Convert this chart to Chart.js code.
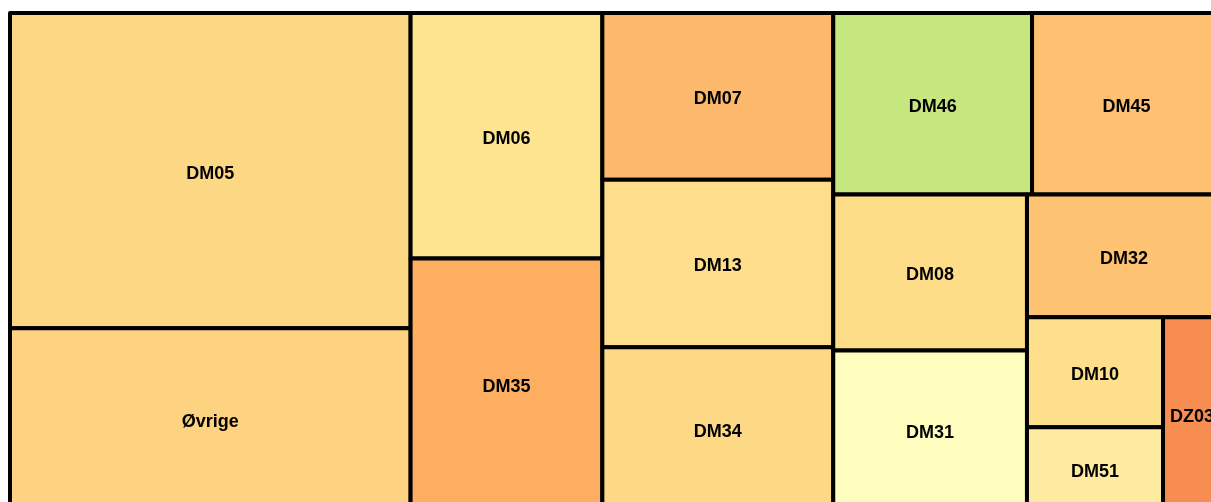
<!DOCTYPE html>
<html>
<head>
<meta charset="utf-8">
<script src="https://cdn.jsdelivr.net/npm/chart.js@4"></script>
<style>
  html, body { margin: 0; padding: 0; background: #fff; overflow: hidden; }
  #wrap { position: absolute; left: 0; top: 0; width: 1240px; height: 530px; }
</style>
</head>
<body>
<div id="wrap"><canvas id="treemap"></canvas></div>
<script>
// treemap cells, in data order
var cellLabels = ["DM05", "Øvrige", "DM06", "DM35", "DM07", "DM13", "DM34", "DM46", "DM45", "DM08", "DM31", "DM32", "DM10", "DM51", "DZ03"];
var cellValues = [1267, 730, 472, 484, 386, 388, 377, 362, 344, 303, 310, 239, 150, 113, 112];
var cellColors = ["#FDD884", "#FDD281", "#FEE391", "#FDAE61", "#FDB96B", "#FEDE8A", "#FDD985", "#C6E67E",
                  "#FDC171", "#FEDD88", "#FFFDBE", "#FDC373", "#FEDF8B", "#FEEBA1", "#F88D52"];

// squarified layout, keeps data order; a row closes when the last cell's ratio gets worse
function squarify(vals, x, y, w, h) {
  var total = vals.reduce(function (a, b) { return a + b; }, 0);
  var areas = vals.map(function (v) { return v / total * w * h; });
  var ratio = function (a, b) { return Math.max(a / b, b / a); };
  var out = [];
  var i = 0;
  while (i < areas.length) {
    var vertical = w >= h;
    var side = vertical ? h : w;
    var row = [areas[i]];
    var sum = areas[i];
    i++;
    while (i < areas.length) {
      var last = row[row.length - 1];
      var oldT = sum / side;
      var newT = (sum + areas[i]) / side;
      if (ratio(newT, last / newT) > ratio(oldT, last / oldT)) break;
      row.push(areas[i]);
      sum += areas[i];
      i++;
    }
    var t = sum / side;
    var off = 0;
    row.forEach(function (a) {
      var l = a / t;
      out.push(vertical ? { x: x, y: y + off, w: t, h: l } : { x: x + off, y: y, w: l, h: t });
      off += l;
    });
    if (vertical) { x += t; w -= t; } else { y += t; h -= t; }
  }
  return out;
}

var treemapPlugin = {
  id: "treemap",
  afterDatasetsDraw: function (chart) {
    var ctx = chart.ctx;
    var ca = chart.chartArea;
    var xs = chart.scales.x, ys = chart.scales.y;
    var W = ca.right - ca.left, H = ca.bottom - ca.top;
    var rects = squarify(cellValues, 0, 0, W, H);
    ctx.save();
    ctx.lineWidth = 4;
    ctx.strokeStyle = "#000";
    ctx.lineJoin = "round";
    rects.forEach(function (r, k) {
      var x0 = xs.getPixelForValue(r.x / W);
      var x1 = xs.getPixelForValue((r.x + r.w) / W);
      var y0 = ys.getPixelForValue(r.y / H);
      var y1 = ys.getPixelForValue((r.y + r.h) / H);
      ctx.fillStyle = cellColors[k];
      ctx.fillRect(x0, y0, x1 - x0, y1 - y0);
      ctx.strokeRect(x0, y0, x1 - x0, y1 - y0);
    });
    ctx.fillStyle = "#000";
    ctx.font = "bold 18px 'Liberation Sans', Arial, sans-serif";
    ctx.textAlign = "center";
    ctx.textBaseline = "middle";
    rects.forEach(function (r, k) {
      var cx = xs.getPixelForValue((r.x + r.w / 2) / W);
      var cy = ys.getPixelForValue((r.y + r.h / 2) / H);
      ctx.fillText(cellLabels[k], cx, cy + 3);
    });
    ctx.restore();
  }
};

new Chart(document.getElementById("treemap"), {
  type: "scatter",
  data: { datasets: [] },
  options: {
    responsive: true,
    maintainAspectRatio: false,
    animation: false,
    layout: { padding: { left: 10, top: 13, right: 19, bottom: 20 } },
    scales: {
      x: { display: false, min: 0, max: 1 },
      y: { display: false, min: 0, max: 1, reverse: true }
    },
    plugins: { legend: { display: false }, tooltip: { enabled: false } }
  },
  plugins: [treemapPlugin]
});
</script>
</body>
</html>
